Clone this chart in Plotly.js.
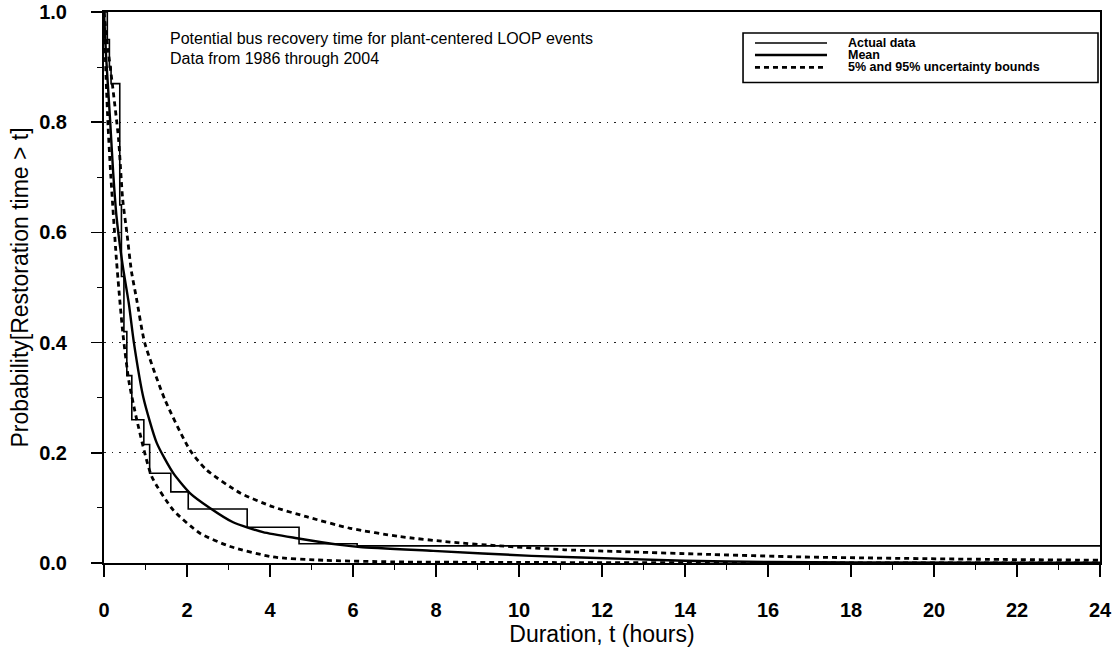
<!DOCTYPE html>
<html>
<head>
<meta charset="utf-8">
<script src="https://cdn.plot.ly/plotly-3.0.1.min.js"></script>
<style>html,body{margin:0;padding:0;background:#fff;}#chart{width:1116px;height:649px;}</style>
</head>
<body>
<div id="chart"></div>
<script>
// Actual data (empirical step function)
const actualT = [0, 0.08, 0.13, 0.17, 0.38, 0.42, 0.48, 0.55, 0.67, 0.96, 1.1, 1.61, 2.03, 3.45, 4.7, 6.1, 24];
const actualP = [1.0, 0.95, 0.9, 0.87, 0.65, 0.52, 0.42, 0.34, 0.26, 0.215, 0.163, 0.129, 0.098, 0.065, 0.035, 0.031, 0.031];

// Mean curve
const meanT = [0, 0.05, 0.1, 0.15, 0.22, 0.3, 0.45, 0.6, 0.72, 0.95, 1.27, 1.67, 2.07, 2.55, 3.11, 3.83, 4.65, 5.69, 6.17, 7.93, 10.3, 12.75, 14, 16, 18, 24];
const meanP = [1.0, 0.92, 0.86, 0.8, 0.71, 0.63, 0.54, 0.47, 0.4, 0.3, 0.218, 0.163, 0.127, 0.1, 0.074, 0.056, 0.045, 0.033, 0.029, 0.022, 0.013, 0.007, 0.004, 0.002, 0.001, 0.0005];

// 95% upper bound
const upperT = [0, 0.1, 0.2, 0.35, 0.45, 0.55, 0.66, 0.79, 0.98, 1.47, 2.07, 2.47, 3.28, 4.07, 4.88, 5.93, 7.13, 8.34, 9.54, 11.1, 12.75, 14.4, 16.8, 20.8, 24];
const upperP = [1.0, 0.93, 0.87, 0.77, 0.66, 0.6, 0.53, 0.477, 0.4, 0.296, 0.205, 0.169, 0.127, 0.102, 0.084, 0.063, 0.048, 0.038, 0.031, 0.024, 0.02, 0.016, 0.011, 0.007, 0.005];

// 5% lower bound
const lowerT = [0, 0.05, 0.1, 0.15, 0.3, 0.45, 0.6, 0.79, 1.15, 1.67, 2.31, 3.04, 4.07, 5.28, 7, 10, 14, 24];
const lowerP = [1.0, 0.88, 0.79, 0.72, 0.55, 0.42, 0.33, 0.26, 0.157, 0.096, 0.054, 0.03, 0.011, 0.005, 0.002, 0.001, 0.0005, 0.0];

const xTicks = [0, 2, 4, 6, 8, 10, 12, 14, 16, 18, 20, 22, 24];
const yTicks = [0.0, 0.2, 0.4, 0.6, 0.8, 1.0];
const yTickText = ['0.0', '0.2', '0.4', '0.6', '0.8', '1.0'];

const legendLabels = ['Actual data', 'Mean', '5% and 95% uncertainty bounds'];

const font = 'Liberation Sans, Arial, sans-serif';
const styles = [
  {color: '#000', width: 1.6},
  {color: '#000', width: 2.4},
  {color: '#000', width: 2.8, dash: '5px,4px'}
];

const traces = [
  {x: actualT, y: actualP, name: legendLabels[0], mode: 'lines', line: Object.assign({shape: 'hv'}, styles[0])},
  {x: meanT, y: meanP, name: legendLabels[1], mode: 'lines', line: Object.assign({shape: 'spline', smoothing: 0.6}, styles[1])},
  {x: upperT, y: upperP, name: legendLabels[2], mode: 'lines', line: Object.assign({shape: 'spline', smoothing: 0.6}, styles[2])},
  {x: lowerT, y: lowerP, name: '5% bound', mode: 'lines', line: Object.assign({shape: 'spline', smoothing: 0.6}, styles[2])}
];

// Legend drawn as a boxed key in the upper right (paper coordinates)
const legBox = {x0: 0.6416, x1: 0.998, y0: 0.872, y1: 0.962};
const legRowY = [0.9437, 0.922, 0.8995];
const legLineX = [0.6536, 0.7259];
const legTextX = 0.7445;
const shapes = [{type: 'rect', xref: 'paper', yref: 'paper', x0: legBox.x0, x1: legBox.x1, y0: legBox.y0, y1: legBox.y1,
  line: {color: '#000', width: 1.6}, fillcolor: '#fff', layer: 'above'}];
const annotations = [
  {xref: 'paper', yref: 'paper', x: 0.0643, y: 0.952, xanchor: 'left', yanchor: 'middle', showarrow: false,
   text: 'Potential bus recovery time for plant-centered LOOP events', font: {size: 16, family: font, color: '#000'}},
  {xref: 'paper', yref: 'paper', x: 0.0643, y: 0.9156, xanchor: 'left', yanchor: 'middle', showarrow: false,
   text: 'Data from 1986 through 2004', font: {size: 16, family: font, color: '#000'}}
];
legendLabels.forEach((lab, i) => {
  shapes.push({type: 'line', xref: 'paper', yref: 'paper', x0: legLineX[0], x1: legLineX[1], y0: legRowY[i], y1: legRowY[i],
    line: Object.assign({}, styles[i]), layer: 'above'});
  annotations.push({xref: 'paper', yref: 'paper', x: legTextX, y: legRowY[i], xanchor: 'left', yanchor: 'middle', showarrow: false,
    text: lab, font: {size: 12.5, family: font, color: '#000', weight: 'bold'}});
});

const layout = {
  width: 1116, height: 649,
  margin: {l: 104, r: 16, t: 12, b: 86},
  paper_bgcolor: '#fff', plot_bgcolor: '#fff',
  font: {family: font, color: '#000'},
  showlegend: false,
  xaxis: {
    range: [0, 24], tickvals: xTicks, ticktext: xTicks.map(String),
    ticks: 'outside', ticklen: 12, tickwidth: 1.6, tickcolor: '#000',
    ticklabelstandoff: 16,
    minor: {dtick: 1, ticks: 'outside', ticklen: 5, tickcolor: '#000', tickwidth: 1},
    showline: true, linecolor: '#000', linewidth: 2, mirror: true,
    showgrid: false, zeroline: false,
    tickfont: {size: 20, family: font, color: '#000', weight: 'bold'},
    title: {text: 'Duration, t (hours)', font: {size: 23, family: font, color: '#000'}, standoff: 6}
  },
  yaxis: {
    range: [0, 1.0], tickvals: yTicks, ticktext: yTickText,
    ticks: 'outside', ticklen: 11, tickwidth: 1.6, tickcolor: '#000',
    ticklabelstandoff: 20,
    minor: {dtick: 0.1, ticks: 'outside', ticklen: 5, tickcolor: '#000', tickwidth: 1, showgrid: false},
    showline: true, linecolor: '#000', linewidth: 2, mirror: true,
    showgrid: true, gridcolor: '#222', gridwidth: 1.2, griddash: '1.5px,6px',
    zeroline: false,
    tickfont: {size: 20, family: font, color: '#000', weight: 'bold'},
    title: {text: 'Probability[Restoration time > t]', font: {size: 23, family: font, color: '#000'}, standoff: 4}
  },
  shapes: shapes,
  annotations: annotations
};

Plotly.newPlot('chart', traces, layout, {displayModeBar: false, staticPlot: true});
</script>
</body>
</html>
